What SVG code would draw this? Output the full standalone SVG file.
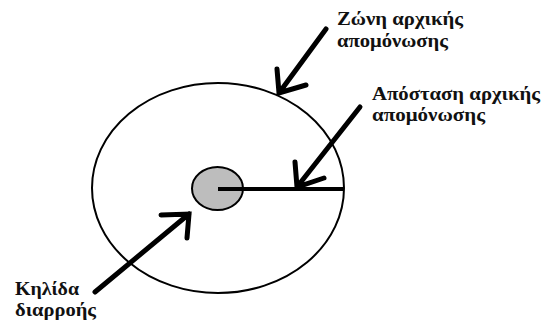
<svg xmlns="http://www.w3.org/2000/svg" width="544" height="324" viewBox="0 0 544 324">
<style>
text{font-family:"Liberation Serif","Times New Roman",serif;font-weight:bold;font-size:19px;fill:#111}
.arr{stroke:#000;stroke-width:5;fill:none;stroke-linecap:round;stroke-linejoin:miter}
</style>
<rect width="544" height="324" fill="#fff"/>
<g id="zone">
<ellipse cx="218" cy="188" rx="126" ry="105" fill="none" stroke="#000" stroke-width="2"/>
</g>
<g id="spill">
<ellipse cx="217.5" cy="188.5" rx="25.5" ry="21.5" fill="#bdbdbd" stroke="#000" stroke-width="2"/>
</g>
<g id="radius">
<line x1="218" y1="189" x2="344" y2="189" stroke="#000" stroke-width="4"/>
</g>
<g id="connectors">
<path class="arr" d="M326,29 L279,93 M277,69 L279,93 L306,85"/>
<path class="arr" d="M360,107 L297,187 M295,162 L297,187 L324,178"/>
<path class="arr" d="M95,292 L189,214 M161,215 L189,214 L187,238"/>
</g>
<g id="labels">
<text x="337" y="25" textLength="126" lengthAdjust="spacingAndGlyphs">Ζώνη αρχικής</text>
<text x="337" y="47" textLength="111" lengthAdjust="spacingAndGlyphs">απομόνωσης</text>
<text x="372" y="100" textLength="168" lengthAdjust="spacingAndGlyphs">Απόσταση αρχικής</text>
<text x="372" y="121" textLength="113" lengthAdjust="spacingAndGlyphs">απομόνωσης</text>
<text x="15" y="295" textLength="64" lengthAdjust="spacingAndGlyphs">Κηλίδα</text>
<text x="15" y="316" textLength="81" lengthAdjust="spacingAndGlyphs">διαρροής</text>
</g>
</svg>
